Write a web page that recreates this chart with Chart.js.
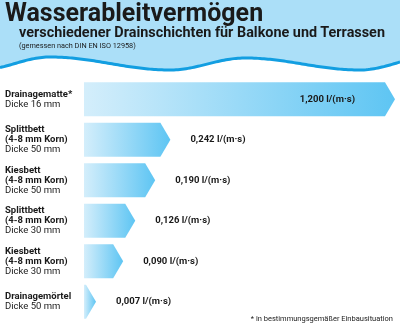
<!DOCTYPE html>
<html lang="de">
<head>
<meta charset="utf-8">
<title>Wasserableitvermögen</title>
<script src="https://cdn.jsdelivr.net/npm/chart.js@4.4.1/dist/chart.umd.min.js"></script>
<style>
  html, body { margin: 0; padding: 0; background: #fff; }
  #wrap { position: relative; width: 400px; height: 326px; overflow: hidden; font-family: Roboto, sans-serif; color: #1a1a1a; }
  #chart { position: absolute; left: 0; top: 0; }
  .txt { position: absolute; white-space: nowrap; line-height: 1; }
  #title { left: 5px; top: -0.5px; font-size: 25px; font-weight: 700; }
  #subtitle { left: 19px; top: 25.9px; font-size: 14.4px; font-weight: 700; }
  #note { left: 19px; top: 42.3px; font-size: 7.3px; }
  #footnote { right: 7px; top: 315px; font-size: 7.5px; }
</style>
</head>
<body>
<div id="wrap">
  <canvas id="chart" width="400" height="326"></canvas>
  <div class="txt" id="title">Wasserableitvermögen</div>
  <div class="txt" id="subtitle">verschiedener Drainschichten für Balkone und Terrassen</div>
  <div class="txt" id="note">(gemessen nach DIN EN ISO 12958)</div>
  <div class="txt" id="footnote">* in bestimmungsgemäßer Einbausituation</div>
</div>
<script>
const nameLines = [
  ["Drainagematte*"],
  ["Splittbett", "(4-8 mm Korn)"],
  ["Kiesbett", "(4-8 mm Korn)"],
  ["Splittbett", "(4-8 mm Korn)"],
  ["Kiesbett", "(4-8 mm Korn)"],
  ["Drainagemörtel"],
];
const thickness = [16, 50, 50, 30, 30, 50];
const values = [1.2, 0.242, 0.19, 0.126, 0.09, 0.007];
const unit = "l/(m·s)";

// bar lengths in the picture follow roughly value^0.8, not a straight line
const barExponent = 0.8;

class PowScale extends Chart.LinearScale {
  getPixelForValue(value) {
    if (value === null || isNaN(value)) return NaN;
    const t = Math.max(0, (value - this.min) / (this.max - this.min));
    return this.getPixelForDecimal(Math.pow(t, barExponent));
  }
  getValueForPixel(pixel) {
    const t = Math.max(0, this.getDecimalForPixel(pixel));
    return this.min + Math.pow(t, 1 / barExponent) * (this.max - this.min);
  }
}
PowScale.id = "pow";
PowScale.defaults = Chart.LinearScale.defaults;
Chart.register(PowScale);

function waveY(x) {
  const pts = [[-20, 70], [50, 57], [170, 70], [245, 58], [360, 70], [430, 57]];
  for (let i = 0; i < pts.length - 1; i++) {
    const [x0, y0] = pts[i];
    const [x1, y1] = pts[i + 1];
    if (x >= x0 && x <= x1) {
      const t = (x - x0) / (x1 - x0);
      return y0 + (y1 - y0) * (1 - Math.cos(Math.PI * t)) / 2;
    }
  }
  return 64;
}

const headerPlugin = {
  id: "header",
  beforeDraw(chart) {
    const ctx = chart.ctx;
    const w = chart.width;
    ctx.save();
    ctx.beginPath();
    ctx.moveTo(0, 0);
    ctx.lineTo(w, 0);
    for (let x = w; x >= 0; x -= 2) ctx.lineTo(x, waveY(x));
    ctx.closePath();
    ctx.fillStyle = "rgb(171, 223, 248)";
    ctx.fill();
    ctx.beginPath();
    for (let x = 0; x <= w; x += 2) {
      if (x === 0) ctx.moveTo(x, waveY(x));
      else ctx.lineTo(x, waveY(x));
    }
    ctx.lineWidth = 3;
    ctx.strokeStyle = "rgb(18, 158, 225)";
    ctx.stroke();
    ctx.restore();
  },
};

const arrowBars = {
  id: "arrowBars",
  afterDatasetsDraw(chart) {
    const ctx = chart.ctx;
    const meta = chart.getDatasetMeta(0);
    const tip = 10;
    ctx.save();
    meta.data.forEach((bar, i) => {
      const p = bar.getProps(["x", "y", "base", "height"], true);
      const top = p.y - p.height / 2;
      const bottom = p.y + p.height / 2;
      const end = Math.max(p.x, p.base + tip + 2);
      const grad = ctx.createLinearGradient(p.base, 0, end, 0);
      grad.addColorStop(0, "rgb(212, 238, 251)");
      grad.addColorStop(1, "rgb(94, 197, 243)");
      ctx.beginPath();
      ctx.moveTo(p.base, top);
      ctx.lineTo(end - tip, top);
      ctx.lineTo(end, p.y);
      ctx.lineTo(end - tip, bottom);
      ctx.lineTo(p.base, bottom);
      ctx.closePath();
      ctx.fillStyle = grad;
      ctx.fill();

      // value label
      const label = values[i].toFixed(3).replace(".", ",") + " " + unit;
      ctx.font = "bold 9.5px Roboto, sans-serif";
      ctx.fillStyle = "#1a1a1a";
      ctx.textBaseline = "middle";
      if (end - p.base > 200) {
        ctx.textAlign = "right";
        ctx.fillText(label, end - 40, p.y);
      } else {
        ctx.textAlign = "left";
        ctx.fillText(label, end + 20, p.y);
      }

      // category label on the left
      const lines = nameLines[i].map((t) => [t, "bold"]);
      lines.push(["Dicke " + thickness[i] + " mm", "normal"]);
      const lh = 10;
      const y0 = p.y - ((lines.length - 1) * lh) / 2;
      ctx.textAlign = "left";
      lines.forEach(([t, weight], k) => {
        ctx.font = weight + " 9.5px Roboto, sans-serif";
        ctx.fillText(t, 5, y0 + k * lh);
      });
    });
    ctx.restore();
  },
};

new Chart(document.getElementById("chart"), {
  type: "bar",
  data: {
    labels: nameLines.map((l) => l.join(" ")),
    datasets: [
      {
        data: values,
        backgroundColor: "rgba(0, 0, 0, 0)",
        borderWidth: 0,
        barPercentage: 0.84,
        categoryPercentage: 1,
      },
    ],
  },
  options: {
    indexAxis: "y",
    responsive: false,
    animation: false,
    layout: { padding: { left: 84, right: 5, top: 79, bottom: 4 } },
    scales: {
      x: { type: "pow", min: 0, max: 1.2, display: false },
      y: { display: false },
    },
    plugins: {
      legend: { display: false },
      tooltip: { enabled: false },
    },
  },
  plugins: [headerPlugin, arrowBars],
});
</script>
</body>
</html>
